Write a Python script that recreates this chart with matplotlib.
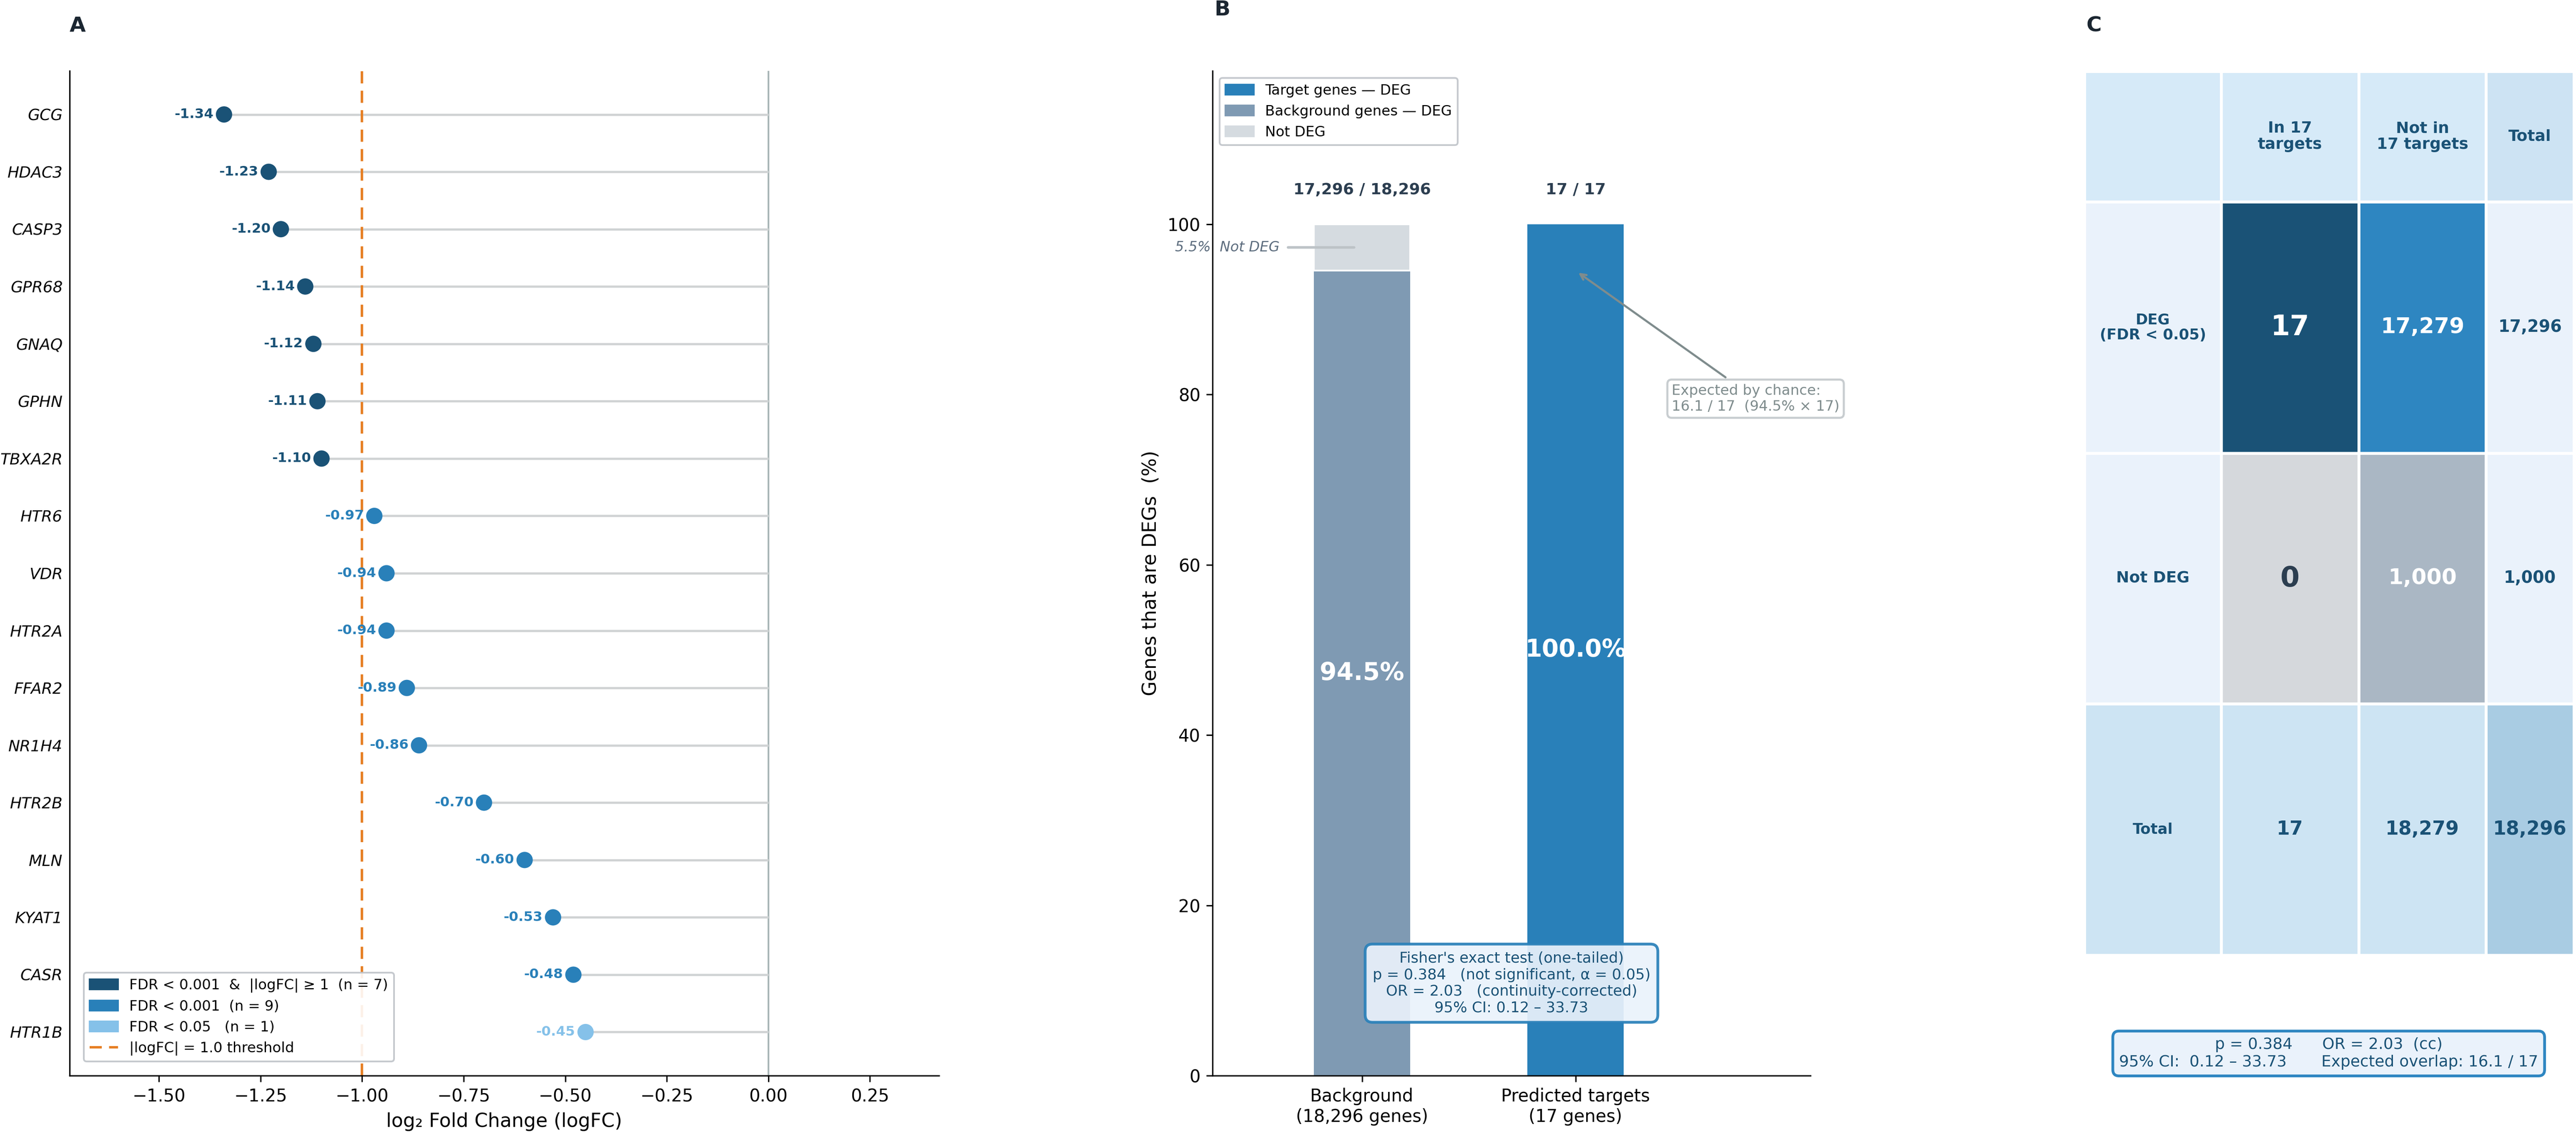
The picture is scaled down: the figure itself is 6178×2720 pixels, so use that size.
import matplotlib
matplotlib.use('Agg')
import matplotlib.pyplot as plt
from matplotlib.patches import Patch, Rectangle
from matplotlib.lines import Line2D

# ---- Panel A: logFC of the 17 predicted targets ----
genes = ['GCG', 'HDAC3', 'CASP3', 'GPR68', 'GNAQ', 'GPHN', 'TBXA2R',
         'HTR6', 'VDR', 'HTR2A', 'FFAR2', 'NR1H4', 'HTR2B', 'MLN',
         'KYAT1', 'CASR', 'HTR1B']
logfc = [-1.34, -1.23, -1.20, -1.14, -1.12, -1.11, -1.10,
         -0.97, -0.94, -0.94, -0.89, -0.86, -0.70, -0.60,
         -0.53, -0.48, -0.45]
tiers = ['strong', 'strong', 'strong', 'strong', 'strong', 'strong', 'strong',
         'fdr001', 'fdr001', 'fdr001', 'fdr001', 'fdr001', 'fdr001', 'fdr001',
         'fdr001', 'fdr001', 'fdr05']
logfc_threshold = 1.0

# ---- Panel B: DEG proportion ----
group_names = ['Background\n(18,296 genes)', 'Predicted targets\n(17 genes)']
deg_counts = [17296, 17]
group_sizes = [18296, 17]

# ---- Panel C: 2x2 contingency table ----
col_labels = ['In 17\ntargets', 'Not in\n17 targets', 'Total']
row_labels = ['DEG\n(FDR < 0.05)', 'Not DEG', 'Total']
table_counts = [[17, 17279],
                [0, 1000]]

# Fisher test results
p_value = 0.384
odds_ratio = 2.03
ci_low, ci_high = 0.12, 33.73
alpha = 0.05

DARK = '#1a5276'
MID = '#2980b9'
LIGHT = '#85c1e9'
ORANGE = '#e67e22'
tier_colors = {'strong': DARK, 'fdr001': MID, 'fdr05': LIGHT}

W, H = 6178, 2720
fig = plt.figure(figsize=(W / 300, H / 300), dpi=300)


def fig_rect(left, top, right, bottom):
    return [left / W, 1 - bottom / H, (right - left) / W, (bottom - top) / H]


# ======================= Panel A =======================
ax_a = fig.add_axes(fig_rect(167, 170, 2252, 2580))
ypos = list(range(len(genes)))
ax_a.axvline(0, color='#aab7b8', lw=1.0, zorder=1)
ax_a.hlines(ypos, logfc, 0, color='#d0d3d4', lw=1.3, zorder=1)
ax_a.axvline(-logfc_threshold, color=ORANGE, lw=1.4, ls=(0, (5, 3)), zorder=2)
cols = [tier_colors[t] for t in tiers]
ax_a.scatter(logfc, ypos, s=88, c=cols, linewidths=0, zorder=3)
for y, v, c in zip(ypos, logfc, cols):
    ax_a.annotate(f'{v:.2f}', (v, y), xytext=(-6, 0), textcoords='offset points',
                  ha='right', va='center', fontsize=7.8, fontweight='bold',
                  color=c, zorder=4)
ax_a.set_yticks(ypos)
ax_a.set_yticklabels(genes, fontsize=9, fontstyle='italic')
ax_a.tick_params(axis='y', length=0, pad=4)
ax_a.set_xticks([-1.5, -1.25, -1.0, -0.75, -0.5, -0.25, 0.0, 0.25])
ax_a.set_xticklabels(['−1.50', '−1.25', '−1.00', '−0.75', '−0.50', '−0.25',
                      '0.00', '0.25'], fontsize=10)
ax_a.set_xlim(-1.72, 0.42)
ax_a.set_ylim(len(genes) - 1 + 0.76, -0.76)
ax_a.set_xlabel('log₂ Fold Change (logFC)', fontsize=11)
for s in ['top', 'right']:
    ax_a.spines[s].set_visible(False)

n_strong = tiers.count('strong')
n_mid = tiers.count('fdr001')
n_low = tiers.count('fdr05')
leg_a = [Patch(color=DARK, label=f'FDR < 0.001  &  |logFC| ≥ 1  (n = {n_strong})'),
         Patch(color=MID, label=f'FDR < 0.001  (n = {n_mid})'),
         Patch(color=LIGHT, label=f'FDR < 0.05   (n = {n_low})'),
         Line2D([0], [0], color=ORANGE, lw=1.4, ls=(0, (5, 3)),
                label=f'|logFC| = {logfc_threshold:.1f} threshold')]
lg = ax_a.legend(handles=leg_a, loc='lower left', fontsize=8.2, frameon=True,
                 edgecolor='#bfc4c9', framealpha=0.9, borderaxespad=1.0)
lg.get_frame().set_linewidth(1.0)

# ======================= Panel B =======================
ax_b = fig.add_axes(fig_rect(2908, 170, 4342, 2580))
pct_deg = [d / n * 100 for d, n in zip(deg_counts, group_sizes)]
pct_not = [100 - p for p in pct_deg]
bar_w = 0.45
ax_b.bar(0, pct_deg[0], width=bar_w, color='#7f9ab3', zorder=2)
ax_b.bar(0, pct_not[0], bottom=pct_deg[0], width=bar_w, color='#d5dbe0',
         edgecolor='white', linewidth=1.0, zorder=2)
ax_b.bar(1, pct_deg[1], width=bar_w, color=MID, zorder=2)
for i in range(2):
    ax_b.text(i, pct_deg[i] / 2, f'{pct_deg[i]:.1f}%', ha='center', va='center',
              fontsize=14, fontweight='bold', color='white', zorder=3)
    ax_b.text(i, 104, f'{deg_counts[i]:,} / {group_sizes[i]:,}', ha='center',
              va='center', fontsize=9, fontweight='bold', color='#2c3e50')
ax_b.annotate(f'{pct_not[0]:.1f}%  Not DEG', xy=(-0.037, pct_deg[0] + pct_not[0] / 2),
              xytext=(-0.387, pct_deg[0] + pct_not[0] / 2), ha='right', va='center',
              fontsize=8.1, fontstyle='italic', color='#5d6d7e',
              arrowprops=dict(arrowstyle='-', color='#bdc3c7', lw=1.5,
                              shrinkA=3, shrinkB=0), zorder=4)
expected = pct_deg[0] / 100 * group_sizes[1]
ax_b.annotate(f'Expected by chance:\n{expected:.1f} / {group_sizes[1]}  '
              f'({pct_deg[0]:.1f}% × {group_sizes[1]})',
              xy=(1.0, pct_deg[0]), xytext=(1.45, 79.5), ha='left', va='center',
              fontsize=8.2, color='#7f8c8d',
              bbox=dict(boxstyle='round,pad=0.3', fc='white', ec='#c8cdd0', lw=1.2),
              arrowprops=dict(arrowstyle='->', color='#7f8c8d', lw=1.2), zorder=5)
ax_b.set_xlim(-0.7, 2.1)
ax_b.set_ylim(0, 118)
ax_b.set_yticks([0, 20, 40, 60, 80, 100])
ax_b.tick_params(labelsize=10)
ax_b.set_xticks([0, 1])
ax_b.set_xticklabels(group_names, fontsize=10)
ax_b.set_ylabel('Genes that are DEGs  (%)', fontsize=11)
for s in ['top', 'right']:
    ax_b.spines[s].set_visible(False)
leg_b = [Patch(color=MID, label='Target genes — DEG'),
         Patch(color='#7f9ab3', label='Background genes — DEG'),
         Patch(color='#d5dbe0', label='Not DEG')]
lg = ax_b.legend(handles=leg_b, loc='upper left', fontsize=8.2,
                 edgecolor='#bfc4c9', framealpha=0.9)
lg.get_frame().set_linewidth(1.0)
ax_b.text(0.5, 0.092,
          f"Fisher's exact test (one-tailed)\n"
          f"p = {p_value:.3f}   (not significant, α = {alpha})\n"
          f"OR = {odds_ratio:.2f}   (continuity-corrected)\n"
          f"95% CI: {ci_low:.2f} – {ci_high:.2f}",
          transform=ax_b.transAxes, ha='center', va='center', fontsize=8.5,
          color=DARK, zorder=6,
          bbox=dict(boxstyle='round,pad=0.5', fc='#eaf2fb', ec=MID, lw=1.6, alpha=0.92))

# ======================= Panel C =======================
ax_c = fig.add_axes(fig_rect(4999, 171, 6173, 2291))
col_edges = [0, 328, 658, 963, 1174]
row_edges = [0, 313, 916, 1517, 2120]
row_tot = [sum(r) for r in table_counts]
col_tot = [table_counts[0][j] + table_counts[1][j] for j in range(2)]
grand = sum(row_tot)

cell_text = [['', col_labels[0], col_labels[1], col_labels[2]],
             [row_labels[0], f'{table_counts[0][0]:,}', f'{table_counts[0][1]:,}', f'{row_tot[0]:,}'],
             [row_labels[1], f'{table_counts[1][0]:,}', f'{table_counts[1][1]:,}', f'{row_tot[1]:,}'],
             [row_labels[2], f'{col_tot[0]:,}', f'{col_tot[1]:,}', f'{grand:,}']]
cell_bg = [['#d6eaf8', '#d6eaf8', '#d6eaf8', '#cde3f3'],
           ['#eaf2fb', DARK, '#2e86c1', '#eaf2fb'],
           ['#eaf2fb', '#d5d8dc', '#aab7c4', '#eaf2fb'],
           ['#cde4f3', '#cde4f3', '#cde4f3', '#a9cce3']]
cell_fc = [[DARK, DARK, DARK, DARK],
           [DARK, 'white', 'white', DARK],
           [DARK, '#2c3e50', 'white', DARK],
           [DARK, DARK, DARK, DARK]]
cell_fs = [[9, 9, 9, 9],
           [8.5, 16, 12.5, 9.5],
           [9, 16, 12.5, 9.5],
           [8.5, 11, 11, 11]]
for i in range(4):
    for j in range(4):
        x0, x1 = col_edges[j], col_edges[j + 1]
        y0, y1 = row_edges[i], row_edges[i + 1]
        ax_c.add_patch(Rectangle((x0, y0), x1 - x0, y1 - y0, fc=cell_bg[i][j],
                                 ec='white', lw=1.7))
        if cell_text[i][j]:
            ax_c.text((x0 + x1) / 2, (y0 + y1) / 2, cell_text[i][j], ha='center',
                      va='center', fontsize=cell_fs[i][j], fontweight='bold',
                      color=cell_fc[i][j], linespacing=1.1)
ax_c.set_xlim(col_edges[0], col_edges[-1])
ax_c.set_ylim(row_edges[-1], row_edges[0])
ax_c.axis('off')

fig.text(0.904, 0.071,
         f'p = {p_value:.3f}      OR = {odds_ratio:.2f}  (cc)\n'
         f'95% CI:  {ci_low:.2f} – {ci_high:.2f}       '
         f'Expected overlap: {expected:.1f} / {group_sizes[1]}',
         ha='center', va='center', fontsize=9, color=DARK,
         bbox=dict(boxstyle='round,pad=0.4', fc='#eaf2fb', ec='#2e86c1', lw=1.6))

# panel letters
for letter, x, y in [('A', 167, 62), ('B', 2912, 23), ('C', 5004, 61)]:
    fig.text(x / W, 1 - y / H, letter, ha='left', va='center', fontsize=12,
             fontweight='bold', color='#1b2631')

fig.savefig('out.png', dpi=300)
